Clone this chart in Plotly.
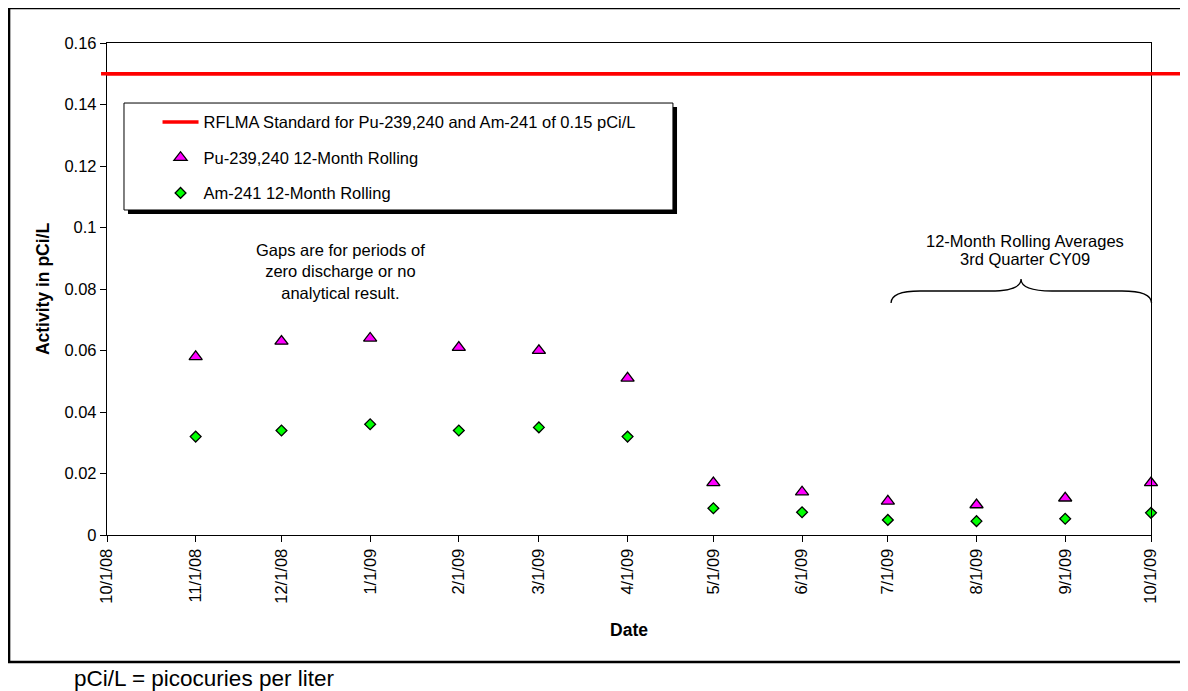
import plotly.graph_objects as go

# ---------------- data ----------------
dates = ["2008-11-01", "2008-12-01", "2009-01-01", "2009-02-01", "2009-03-01", "2009-04-01",
         "2009-05-01", "2009-06-01", "2009-07-01", "2009-08-01", "2009-09-01", "2009-10-01"]
pu_239_240 = [0.058, 0.063, 0.064, 0.061, 0.060, 0.051,
              0.017, 0.014, 0.011, 0.0098, 0.012, 0.017]
am_241 = [0.032, 0.034, 0.036, 0.034, 0.035, 0.032,
          0.0087, 0.0074, 0.0049, 0.0045, 0.0053, 0.0072]
standard_value = 0.15
standard_dates = ["2008-10-01", "2009-10-01"]

tick_dates = ["2008-10-01", "2008-11-01", "2008-12-01", "2009-01-01", "2009-02-01", "2009-03-01",
              "2009-04-01", "2009-05-01", "2009-06-01", "2009-07-01", "2009-08-01", "2009-09-01",
              "2009-10-01"]
tick_labels = ["10/1/08", "11/1/08", "12/1/08", "1/1/09", "2/1/09", "3/1/09", "4/1/09",
               "5/1/09", "6/1/09", "7/1/09", "8/1/09", "9/1/09", "10/1/09"]
y_ticks = [0, 0.02, 0.04, 0.06, 0.08, 0.1, 0.12, 0.14, 0.16]
y_tick_labels = ["0", "0.02", "0.04", "0.06", "0.08", "0.1", "0.12", "0.14", "0.16"]

series_names = ["RFLMA Standard for Pu-239,240 and Am-241 of 0.15 pCi/L",
                "Pu-239,240 12-Month Rolling",
                "Am-241 12-Month Rolling"]

FONT = "Liberation Sans, Arial, Helvetica, sans-serif"

fig = go.Figure()
fig.add_trace(go.Scatter(
    x=standard_dates, y=[standard_value] * len(standard_dates), mode="lines",
    name=series_names[0], legendgroup="a",
    line=dict(color="#FF0000", width=3.3), hoverinfo="skip"))
fig.add_trace(go.Scatter(
    x=dates, y=pu_239_240, mode="markers", name=series_names[1], legendgroup="b",
    cliponaxis=False,
    marker=dict(symbol="triangle-up", size=11.5, color="#FF00FF",
                line=dict(color="black", width=1.3))))
fig.add_trace(go.Scatter(
    x=dates, y=am_241, mode="markers", name=series_names[2], legendgroup="c",
    cliponaxis=False,
    marker=dict(symbol="diamond", size=8.3, color="#00FF00",
                line=dict(color="black", width=1.3))))

shapes = [
    # outer frame
    dict(type="rect", xref="paper", yref="paper", x0=-0.0938, x1=1.06, y0=-0.2581, y1=1.0712,
         line=dict(color="black", width=2.5), fillcolor="rgba(0,0,0,0)", layer="above"),
    # standard line extending beyond the plot area
    dict(type="line", xref="paper", yref="y", x0=-0.0057, x1=1.06,
         y0=standard_value, y1=standard_value, line=dict(color="#FF0000", width=3.3), layer="above"),
    # legend shadow + box
    dict(type="rect", xref="paper", yref="paper", x0=0.0201, x1=0.5460, y0=0.6524, y1=0.8699,
         line=dict(width=0), fillcolor="black", layer="above"),
    dict(type="rect", xref="paper", yref="paper", x0=0.01628, x1=0.5421, y0=0.6606, y1=0.878,
         line=dict(color="black", width=1), fillcolor="white", layer="above"),
    # curly brace
    dict(type="path", xref="paper", yref="paper",
         path=("M 0.7510,0.4715 Q 0.7510,0.4959 0.7787,0.4959 L 0.8458,0.4959 "
               "Q 0.8755,0.4959 0.8755,0.5203 Q 0.8755,0.4959 0.9052,0.4959 "
               "L 0.9722,0.4959 Q 1.0005,0.4959 1.0005,0.4715"),
         line=dict(color="black", width=1.3), layer="above"),
]

annotations = [
    dict(text="Gaps are for periods of<br>zero discharge or no<br>analytical result.",
         xref="paper", yref="paper", x=0.2241, y=0.5352, xanchor="center", yanchor="middle",
         showarrow=False, font=dict(family=FONT, size=16.5, color="black")),
    dict(text="12-Month Rolling Averages", xref="paper", yref="paper", x=0.8793, y=0.5982,
         xanchor="center", yanchor="middle", showarrow=False,
         font=dict(family=FONT, size=16.5, color="black")),
    dict(text="3rd Quarter CY09", xref="paper", yref="paper", x=0.8793, y=0.5604,
         xanchor="center", yanchor="middle", showarrow=False,
         font=dict(family=FONT, size=16.5, color="black")),
    dict(text="pCi/L = picocuries per liter", xref="paper", yref="paper", x=-0.0336, y=-0.2907,
         xanchor="left", yanchor="middle", showarrow=False,
         font=dict(family=FONT, size=22.5, color="black")),
]

# The page places the figure 8 px from the top-left corner, so the figure is
# 8 px smaller and its margins are shifted to keep the plot area in place.
fig.update_layout(
    width=1180, height=683,
    margin=dict(l=99, r=37, t=35, b=156, autoexpand=False),
    paper_bgcolor="white", plot_bgcolor="white",
    font=dict(family=FONT, color="black"),
    showlegend=True,
    legend=dict(x=0.0484, y=0.8744, xanchor="left", yanchor="top",
                bgcolor="rgba(0,0,0,0)", borderwidth=0, itemwidth=36,
                traceorder="grouped", tracegroupgap=11,
                font=dict(family=FONT, size=16.5, color="black")),
    shapes=shapes, annotations=annotations,
    xaxis=dict(type="date", range=[tick_dates[0], tick_dates[-1]],
               tickmode="array", tickvals=tick_dates, ticktext=tick_labels,
               tickangle=-90, ticks="outside", ticklen=6, tickcolor="black",
               showline=True, linecolor="black", linewidth=1.3, mirror=True,
               showgrid=False, zeroline=False, automargin=False,
               tickfont=dict(family=FONT, size=16.5, color="black"),
               title=dict(text="<b>Date</b>", standoff=20,
                          font=dict(family=FONT, size=17.5, color="black"))),
    yaxis=dict(range=[0, 0.16], tickmode="array", tickvals=y_ticks, ticktext=y_tick_labels,
               ticks="outside", ticklen=6, tickcolor="black",
               showline=True, linecolor="black", linewidth=1.3, mirror=True,
               showgrid=False, zeroline=False, automargin=False,
               tickfont=dict(family=FONT, size=16.5, color="black"),
               title=dict(text="<b>Activity in pCi/L</b>", standoff=10,
                          font=dict(family=FONT, size=17.5, color="black"))),
)

fig.write_html("out.html")
